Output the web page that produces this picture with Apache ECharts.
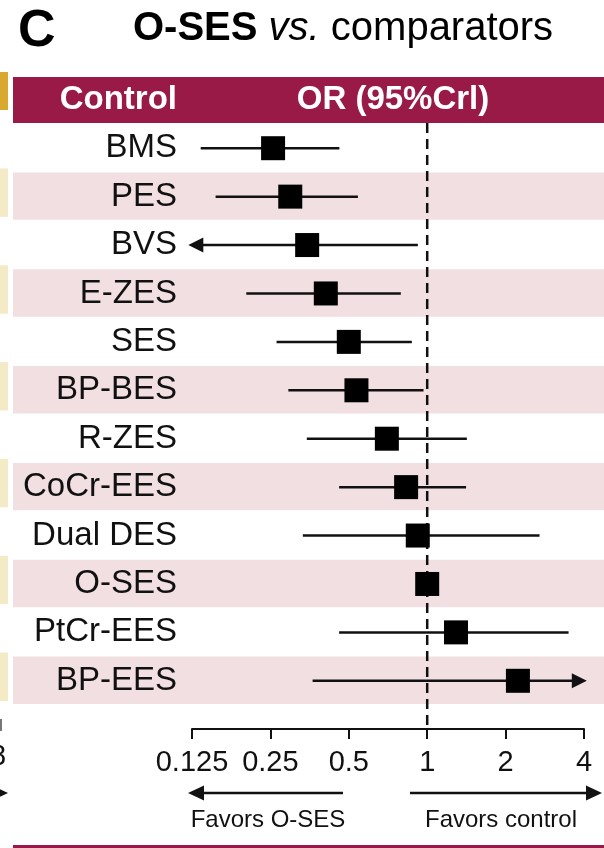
<!DOCTYPE html>
<html>
<head>
<meta charset="utf-8">
<script src="https://cdn.jsdelivr.net/npm/echarts@6/dist/echarts.min.js"></script>
<style>
  html, body { margin: 0; padding: 0; background: #fff; }
  #chart { width: 604px; height: 848px; }
</style>
</head>
<body>
<div id="chart"></div>
<script>
// Network meta-analysis: O-SES compared with each control stent
const comparators = ['BMS', 'PES', 'BVS', 'E-ZES', 'SES', 'BP-BES', 'R-ZES',
                     'CoCr-EES', 'Dual DES', 'O-SES', 'PtCr-EES', 'BP-EES'];
const oddsRatio = [0.256, 0.298, 0.346, 0.408, 0.50, 0.535, 0.70, 0.83, 0.92, 1.0, 1.29, 2.23];
// 95% credible interval bounds; bounds past the axis end are drawn as arrows
const lowerCrI  = [0.135, 0.154, 0.121, 0.202, 0.264, 0.293, 0.345, 0.459, 0.333, null, 0.459, 0.363];
const upperCrI  = [0.46, 0.542, 0.921, 0.792, 0.873, 0.968, 1.42, 1.41, 2.70, null, 3.49, 4.1];
const tickValues = [0.125, 0.25, 0.5, 1, 2, 4];
const tickLabels = ['0.125', '0.25', '0.5', '1', '2', '4'];
const referenceOR = 1;

const FONT = "'Liberation Sans', Arial, Helvetica, sans-serif";
const INK = '#111111';
const BAND = '#f2dfe1';
const MAROON = '#9a1a47';
const GOLD = '#d9a92f';
const PALE_GOLD = '#f4eac6';

const log2 = Math.log2;
const axisMin = log2(tickValues[0]);
const axisMax = log2(tickValues[tickValues.length - 1]);

// rows: [log2 OR, row index, log2 lower, log2 upper]
const forestRows = comparators.map((name, i) => [
  log2(oddsRatio[i]), i,
  lowerCrI[i] == null ? null : log2(lowerCrI[i]),
  upperCrI[i] == null ? null : log2(upperCrI[i])
]);
const bandRows = comparators.map((name, i) => [axisMin, i]);

function labelFor(v) {
  const k = tickValues.findIndex(t => Math.abs(log2(t) - v) < 1e-9);
  return k < 0 ? '' : tickLabels[k];
}

const chart = echarts.init(document.getElementById('chart'), null, { renderer: 'canvas' });

chart.setOption({
  backgroundColor: '#ffffff',
  animation: false,
  grid: { left: 192, right: 20, top: 124, bottom: 143, outerBoundsMode: 'none' },
  xAxis: {
    type: 'value',
    min: axisMin,
    max: axisMax,
    interval: 1,
    position: 'bottom',
    offset: 24,
    z: 10,
    axisLine: { show: true, onZero: false, lineStyle: { color: INK, width: 2 } },
    axisTick: { show: true, length: 10, lineStyle: { color: INK, width: 2 } },
    axisLabel: { fontSize: 29, color: INK, fontFamily: FONT, margin: 19, formatter: labelFor },
    splitLine: { show: false }
  },
  yAxis: {
    type: 'category',
    inverse: true,
    data: comparators,
    z: 10,
    axisLine: { show: false },
    axisTick: { show: false },
    axisLabel: { interval: 0, fontSize: 33, color: INK, fontFamily: FONT, margin: 15 },
    splitLine: { show: false }
  },
  series: [
    {
      // alternating shaded rows
      type: 'custom',
      clip: false,
      z: 1,
      silent: true,
      data: bandRows,
      encode: { x: 0, y: 1 },
      renderItem: function (params, api) {
        const i = api.value(1);
        if (i % 2 !== 1) return null;
        const cy = api.coord([api.value(0), i])[1];
        const h = api.size([0, 1])[1];
        return {
          type: 'group',
          children: [
            { type: 'rect', shape: { x: 13, y: cy - h / 2, width: api.getWidth() - 13, height: h - 1 },
              style: { fill: BAND } },
            { type: 'rect', shape: { x: 0, y: cy - h / 2 - 4, width: 8, height: h },
              style: { fill: PALE_GOLD } }
          ]
        };
      }
    },
    {
      // line of no difference (OR = 1)
      type: 'custom',
      clip: false,
      z: 2,
      silent: true,
      data: [[log2(referenceOR), 0]],
      encode: { x: 0, y: 1 },
      renderItem: function (params, api) {
        const x = api.coord([api.value(0), 0])[0];
        const cs = params.coordSys;
        return {
          type: 'line',
          shape: { x1: x, y1: cs.y - 1, x2: x, y2: cs.y + cs.height + 24 },
          style: { stroke: INK, lineWidth: 2.5, lineDash: [10, 6] }
        };
      }
    },
    {
      // point estimates with credible intervals
      type: 'custom',
      clip: false,
      z: 3,
      data: forestRows,
      encode: { x: 0, y: 1 },
      renderItem: function (params, api) {
        const est = api.value(0);
        const row = api.value(1);
        const lo = api.value(2);
        const hi = api.value(3);
        const c = api.coord([est, row]);
        const cy = c[1];
        const children = [];
        if (!isNaN(lo) && !isNaN(hi)) {
          let x1 = api.coord([lo, row])[0];
          let x2 = api.coord([hi, row])[0];
          const headLen = 15, half = 7.5;
          if (lo < axisMin) {
            children.push({ type: 'polygon',
              shape: { points: [[x1, cy], [x1 + headLen, cy - half], [x1 + headLen, cy + half]] },
              style: { fill: INK } });
            x1 += headLen - 1;
          }
          if (hi > axisMax) {
            children.push({ type: 'polygon',
              shape: { points: [[x2, cy], [x2 - headLen, cy - half], [x2 - headLen, cy + half]] },
              style: { fill: INK } });
            x2 -= headLen - 1;
          }
          children.unshift({ type: 'line', shape: { x1: x1, y1: cy, x2: x2, y2: cy },
            style: { stroke: INK, lineWidth: 2.5 } });
        }
        const side = 24;
        children.push({ type: 'rect', shape: { x: c[0] - side / 2, y: cy - side / 2, width: side, height: side },
          style: { fill: '#000000' } });
        return { type: 'group', children: children };
      }
    }
  ],
  graphic: [
    // panel letter and title
    { type: 'text', left: 18, top: 6,
      style: { text: 'C', font: 'bold 52px ' + FONT, fill: '#000' } },
    { type: 'text', left: 133, top: 9,
      style: {
        text: '{b|O-SES }{i|vs. }{n|comparators}',
        rich: {
          b: { font: 'bold 40px ' + FONT, fill: '#000' },
          i: { font: 'italic 40px ' + FONT, fill: '#000' },
          n: { font: '40px ' + FONT, fill: '#000' }
        }
      } },
    // header bar
    { type: 'rect', shape: { x: 0, y: 72, width: 8, height: 38 }, style: { fill: GOLD } },
    { type: 'rect', shape: { x: 13, y: 77, width: 591, height: 46 }, style: { fill: MAROON } },
    { type: 'text', style: { x: 177, y: 100, text: 'Control', font: 'bold 33px ' + FONT,
      fill: '#ffffff', align: 'right', verticalAlign: 'middle' } },
    { type: 'text', style: { x: 393, y: 100, text: 'OR (95%Crl)', font: 'bold 33px ' + FONT,
      fill: '#ffffff', align: 'center', verticalAlign: 'middle' } },
    // direction arrows under the axis
    { type: 'line', shape: { x1: 200, y1: 793, x2: 343, y2: 793 }, style: { stroke: INK, lineWidth: 2.5 } },
    { type: 'polygon', shape: { points: [[188, 793], [204, 785.5], [204, 800.5]] }, style: { fill: INK } },
    { type: 'line', shape: { x1: 410, y1: 793, x2: 590, y2: 793 }, style: { stroke: INK, lineWidth: 2.5 } },
    { type: 'polygon', shape: { points: [[602, 793], [586, 785.5], [586, 800.5]] }, style: { fill: INK } },
    { type: 'text', style: { x: 268, y: 820, text: 'Favors O-SES', font: '24px ' + FONT,
      fill: INK, align: 'center', verticalAlign: 'middle' } },
    { type: 'text', style: { x: 501, y: 820, text: 'Favors control', font: '24px ' + FONT,
      fill: INK, align: 'center', verticalAlign: 'middle' } },
    // bottom rule
    { type: 'rect', shape: { x: 13, y: 845, width: 591, height: 3 }, style: { fill: MAROON } },
    // edge of the neighbouring panel
    { type: 'line', shape: { x1: 1, y1: 719, x2: 1, y2: 731 }, style: { stroke: '#777', lineWidth: 2 } },
    { type: 'text', style: { x: -10, y: 757, text: '8', font: '29px ' + FONT, fill: INK,
      verticalAlign: 'middle' } },
    { type: 'polygon', shape: { points: [[8, 793], [-8, 785.5], [-8, 800.5]] }, style: { fill: INK } },
    { type: 'line', shape: { x1: 0, y1: 686, x2: 4, y2: 686 }, style: { stroke: '#555', lineWidth: 1.5 } }
  ]
});
</script>
</body>
</html>
